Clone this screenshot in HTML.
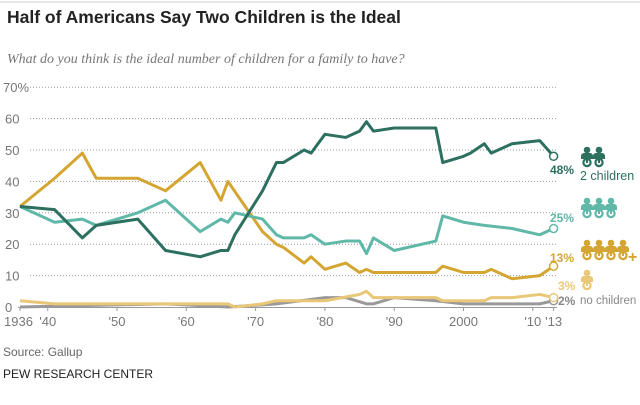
<!DOCTYPE html>
<html><head><meta charset="utf-8"><style>
body{margin:0;background:#fff;width:640px;height:400px;overflow:hidden;font-family:"Liberation Sans",sans-serif}
</style></head><body>
<svg id="s" width="640" height="400" xmlns="http://www.w3.org/2000/svg" font-family="Liberation Sans, sans-serif">
<line x1="0" y1="2" x2="640" y2="2" stroke="#ccc" stroke-width="1"/>
<text x="7" y="23" font-size="17.5" font-weight="bold" fill="#222">Half of Americans Say Two Children is the Ideal</text>
<text x="7" y="63" font-size="14" font-style="italic" font-family="Liberation Serif, serif" fill="#777">What do you think is the ideal number of children for a family to have?</text>
<g id="grid"></g>
<g id="lines"></g>
<text x="3" y="356" font-size="12" fill="#666">Source: Gallup</text>
<text x="3" y="378" font-size="12" fill="#222">PEW RESEARCH CENTER</text>
<g font-size="12" font-weight="bold">
<text x="550" y="174" fill="#2d7060">48%</text>
<text x="550" y="222" fill="#5fb8a8">25%</text>
<text x="550" y="262" fill="#d4a631">13%</text>
<text x="558" y="290" fill="#e8c777">3%</text>
<text x="558" y="305" fill="#888">2%</text>
</g>
<text x="580" y="180" font-size="12.5" fill="#2d7060">2 children</text>
<text x="580" y="304" font-size="11.5" fill="#888">no children</text>
<text x="628" y="262" font-size="16" font-weight="bold" fill="#d4a631">+</text>
<g id="icons"></g>
</svg>
<script>
const X=y=>20+(y-1936)*6.93, Y=v=>307-3.14*v;
let g='';
for(let v=10;v<=70;v+=10){g+=`<line x1="30" x2="557" y1="${Y(v)}" y2="${Y(v)}" stroke="#999" stroke-dasharray="1,2" stroke-width="1"/>`;
 g+=`<text x="${v==70?3:5}" y="${Y(v)+5}" font-size="13" fill="#777">${v}${v==70?'%':''}</text>`;}
g+=`<text x="5" y="${Y(0)+5}" font-size="13" fill="#777">0</text>`;
g+=`<line x1="18" x2="557" y1="307.5" y2="307.5" stroke="#999"/>`;
[[1936,"1936"],[1940,"'40"],[1950,"'50"],[1960,"'60"],[1970,"'70"],[1980,"'80"],[1990,"'90"],[2000,"2000"],[2010,"'10"],[2013,"'13"]].forEach(([y,t],i)=>{
 g+=`<line x1="${X(y)}" x2="${X(y)}" y1="307" y2="311" stroke="#999"/>`;
 g+=`<text x="${X(y)}" y="326" font-size="13" fill="#777" text-anchor="${i==0?'start':'middle'}" ${i==0?'dx="-16"':''}>${t}</text>`;});
document.getElementById('grid').innerHTML=g;
const S={
gray:[[1936,0],[1957,1],[1966,0],[1973,1],[1980,3],[1983,3],[1986,1],[1987,1],[1990,3],[1996,2],[2000,1],[2011,1],[2013,2]],
light:[[1936,2],[1941,1],[1957,1],[1966,1],[1967,0],[1971,1],[1973,2],[1980,2],[1985,4],[1986,5],[1987,3],[1990,3],[1996,3],[1997,2],[2003,2],[2004,3],[2007,3],[2011,4],[2013,3]],
gold:[[1936,32],[1941,41],[1945,49],[1947,41],[1953,41],[1957,37],[1962,46],[1965,34],[1966,40],[1971,24],[1973,20],[1974,19],[1977,14],[1978,16],[1980,12],[1983,14],[1985,11],[1986,12],[1987,11],[1990,11],[1996,11],[1997,13],[2000,11],[2003,11],[2004,12],[2007,9],[2011,10],[2013,13]],
teal:[[1936,32],[1941,27],[1945,28],[1947,26],[1953,30],[1957,34],[1962,24],[1965,28],[1966,27],[1967,30],[1971,28],[1973,23],[1974,22],[1977,22],[1978,23],[1980,20],[1983,21],[1985,21],[1986,17],[1987,22],[1990,18],[1996,21],[1997,29],[2000,27],[2003,26],[2007,25],[2011,23],[2013,25]],
green:[[1936,32],[1941,31],[1945,22],[1947,26],[1953,28],[1957,18],[1962,16],[1965,18],[1966,18],[1967,23],[1971,37],[1973,46],[1974,46],[1977,50],[1978,49],[1980,55],[1983,54],[1985,56],[1986,59],[1987,56],[1990,57],[1996,57],[1997,46],[2000,48],[2001,49],[2003,52],[2004,49],[2007,52],[2011,53],[2013,48]]};
const C={gray:'#999',light:'#e8c777',gold:'#d4a631',teal:'#5fb8a8',green:'#2d7060'};
let l='';
for(const k in S){const p=S[k];l+=`<polyline fill="none" stroke="${C[k]}" stroke-width="3" stroke-linejoin="round" points="${p.map(a=>X(a[0])+','+Y(a[1])).join(' ')}"/>`;
 const e=p[p.length-1];l+=`<circle cx="${X(e[0])}" cy="${Y(e[1])}" r="4" fill="#fff" stroke="${C[k]}" stroke-width="1.5"/>`;}
document.getElementById('lines').innerHTML=l;
function icon(x,y,c){return `<circle cx="${x}" cy="${y+3}" r="3.3" fill="${c}"/><path d="M${x-6},${y+12} v-3 a3,3 0 0 1 3,-3 h6 a3,3 0 0 1 3,3 v3 z" fill="${c}"/><circle cx="${x}" cy="${y+15.5}" r="3.6" fill="none" stroke="${c}" stroke-width="2.2"/><rect x="${x-1}" y="${y+12}" width="2" height="4" fill="${c}"/>`;}
let ic='';
[[2,147,'#2d7060'],[3,198,'#5fb8a8'],[4,240,'#d4a631'],[1,270,'#e8c777']].forEach(([n,y,c])=>{for(let i=0;i<n;i++)ic+=icon(587+i*12,y,c);});
document.getElementById('icons').innerHTML=ic;
</script>
</body></html>
